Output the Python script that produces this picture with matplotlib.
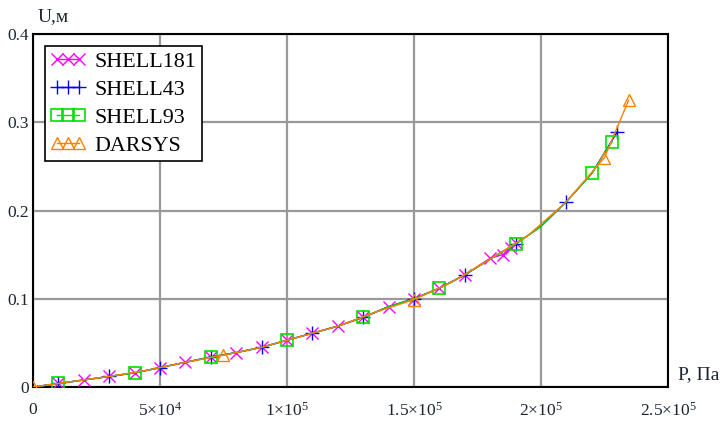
import matplotlib
matplotlib.use("Agg")
import matplotlib.pyplot as plt

plt.rcParams["font.family"] = ["Liberation Serif", "DejaVu Serif"]
plt.rcParams["mathtext.fontset"] = "custom"
plt.rcParams["mathtext.rm"] = "Liberation Serif"
plt.rcParams["mathtext.it"] = "Liberation Serif"
plt.rcParams["mathtext.bf"] = "Liberation Serif:bold"

# data (P in Pa, U in m)
p_shell181 = [0, 1e4, 2e4, 3e4, 4e4, 5e4, 6e4, 7e4, 8e4, 9e4, 1e5, 1.1e5,
              1.2e5, 1.3e5, 1.4e5, 1.5e5, 1.6e5, 1.7e5, 1.8e5, 1.85e5, 1.88e5,
              1.9e5]
u_shell181 = [0.0, 0.004, 0.008, 0.012, 0.016, 0.022, 0.028, 0.034, 0.039,
              0.045, 0.053, 0.061, 0.069, 0.079, 0.091, 0.100, 0.112, 0.127,
              0.146, 0.150, 0.158, 0.163]
shell181_marks = list(range(1, 22))

p_shell43 = [0, 1e4, 2e4, 3e4, 4e4, 5e4, 6e4, 7e4, 8e4, 9e4, 1e5, 1.1e5,
             1.2e5, 1.3e5, 1.4e5, 1.5e5, 1.6e5, 1.7e5, 1.8e5, 1.9e5, 2e5,
             2.1e5, 2.2e5, 2.3e5]
u_shell43 = [0.0, 0.004, 0.008, 0.012, 0.016, 0.022, 0.028, 0.034, 0.039,
             0.045, 0.053, 0.061, 0.069, 0.079, 0.091, 0.100, 0.112, 0.127,
             0.145, 0.162, 0.182, 0.210, 0.242, 0.289]
shell43_marks = [1, 3, 5, 7, 9, 11, 13, 15, 17, 19, 21, 23]

p_shell93 = [0, 1e4, 2e4, 3e4, 4e4, 5e4, 6e4, 7e4, 8e4, 9e4, 1e5, 1.1e5,
             1.2e5, 1.3e5, 1.4e5, 1.5e5, 1.6e5, 1.7e5, 1.8e5, 1.9e5, 2e5,
             2.1e5, 2.2e5, 2.28e5]
u_shell93 = [0.0, 0.004, 0.008, 0.012, 0.016, 0.022, 0.028, 0.034, 0.039,
             0.045, 0.053, 0.061, 0.069, 0.079, 0.091, 0.100, 0.112, 0.127,
             0.145, 0.162, 0.182, 0.210, 0.242, 0.278]
shell93_marks = [1, 4, 7, 10, 13, 16, 19, 22, 23]

p_darsys = [0, 1.5e4, 3e4, 4.5e4, 6e4, 7.5e4, 9e4, 1.05e5, 1.2e5, 1.35e5,
            1.5e5, 1.65e5, 1.8e5, 1.95e5, 2.1e5, 2.25e5, 2.345e5]
u_darsys = [0.0, 0.006, 0.012, 0.019, 0.028, 0.036, 0.045, 0.057, 0.069,
            0.085, 0.099, 0.119, 0.145, 0.172, 0.210, 0.260, 0.325]
darsys_marks = [0, 5, 10, 15, 16]

x_ticks = [0, 5e4, 1e5, 1.5e5, 2e5, 2.5e5]
x_labels = ["0", r"$5{\times}10^{4}$", r"$1{\times}10^{5}$",
            r"$1.5{\times}10^{5}$", r"$2{\times}10^{5}$", r"$2.5{\times}10^{5}$"]
y_ticks = [0, 0.1, 0.2, 0.3, 0.4]
y_labels = ["0", "0.1", "0.2", "0.3", "0.4"]

fig = plt.figure(figsize=(7.22, 4.22), dpi=100)
ax = fig.add_axes([0.0457, 0.0829, 0.8795, 0.8365])

ax.plot(p_shell181, u_shell181, color="#ff00ff", lw=1.0, marker="x",
        ms=9, mew=1.0, markevery=shell181_marks, label="SHELL181", zorder=3)
ax.plot(p_shell43, u_shell43, color="#0000ff", lw=1.0, marker="+",
        ms=10, mew=1.0, markevery=shell43_marks, label="SHELL43", zorder=4)
ax.plot(p_shell93, u_shell93, color="#00e000", lw=1.0, marker="s",
        ms=8, mew=1.2, mfc="none", markevery=shell93_marks, label="SHELL93",
        zorder=5)
ax.plot(p_darsys, u_darsys, color="#ff8000", lw=1.0, marker="^",
        ms=8, mew=1.0, mfc="none", markevery=darsys_marks, label="DARSYS",
        zorder=6)

ax.set_xlim(0, 2.5e5)
ax.set_ylim(0, 0.4)
ax.set_xticks(x_ticks)
ax.set_xticklabels(x_labels)
ax.set_yticks(y_ticks)
ax.set_yticklabels(y_labels)
ax.tick_params(length=0, labelsize=12.5, colors="#1c2633")
ax.tick_params(axis="x", pad=11)
ax.tick_params(axis="y", pad=3)
ax.grid(True, color="#999999", lw=1.6)
ax.set_axisbelow(True)
for s in ax.spines.values():
    s.set_linewidth(1.5)
    s.set_color("black")

ax.text(0.008, 1.05, "U,м", transform=ax.transAxes, fontsize=14,
        va="center", ha="left", color="#1c2633")
ax.text(1.016, 0.035, "P, Па", transform=ax.transAxes, fontsize=14,
        va="center", ha="left", color="#1c2633")

leg = ax.legend(loc="upper left", bbox_to_anchor=(0.019, 0.966),
                borderaxespad=0, fancybox=False, framealpha=1,
                edgecolor="black", fontsize=15.8, numpoints=3,
                handlelength=1.6, handletextpad=0.4, labelspacing=0.35,
                borderpad=0.25)
leg.get_frame().set_linewidth(1.2)

fig.savefig("out.png", dpi=100)
